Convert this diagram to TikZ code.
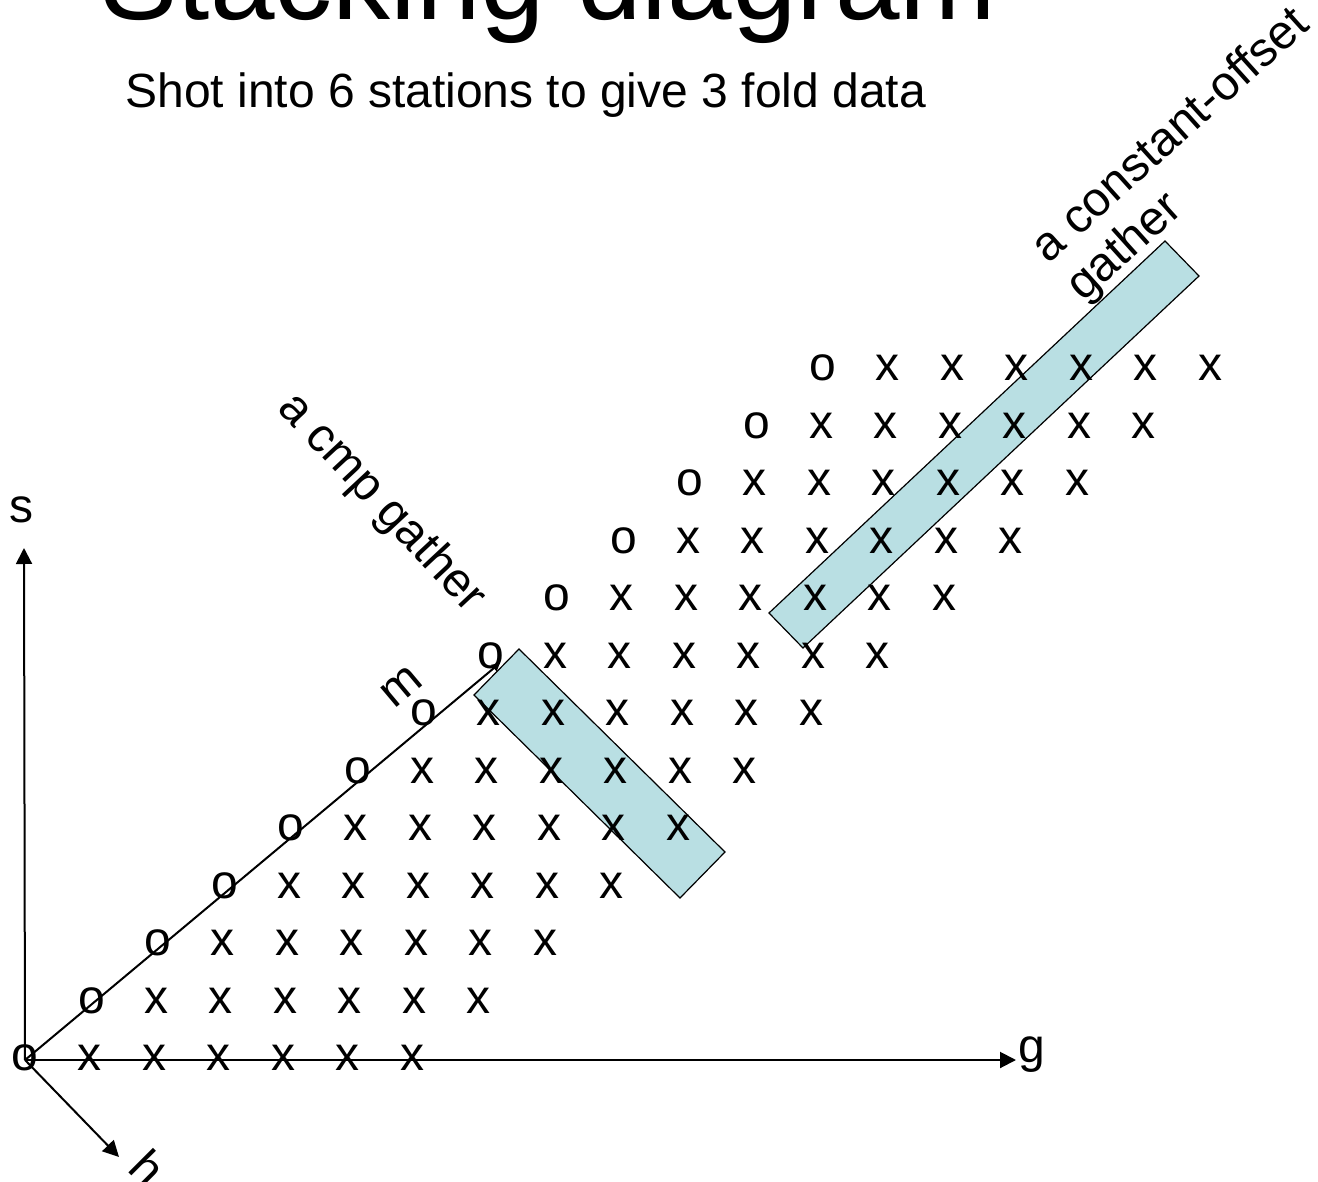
\documentclass[tikz,border=0pt]{standalone}
\usepackage{fontspec}
\setmainfont{Liberation Sans}
\usetikzlibrary{arrows.meta}
\definecolor{gatherblue}{RGB}{185,223,227}

\begin{document}
\begin{tikzpicture}[x=0.5pt, y=-0.5pt,
  bigtxt/.style={font=\fontsize{24}{26}\selectfont, inner sep=0pt},
  axis/.style={line width=1pt, -{Triangle[length=8pt, width=8pt]}},
  gatherbox/.style={fill=gatherblue, draw=black, line width=0.6pt}]

  \useasboundingbox (0,0) rectangle (1318,1182);

  % Title and subtitle
  \node[anchor=base west, font=\fontsize{58}{64}\selectfont, inner sep=0pt] (title) at (100,20) {Stacking diagram};
  \node[anchor=base west, bigtxt] (subtitle) at (125,108) {Shot into 6 stations to give 3 fold data};

  % Gather boxes (behind the stations)
  \filldraw[gatherbox] (474,695) -- (519,649) -- (725,852) -- (680,898) -- cycle;
  \filldraw[gatherbox] (769,613) -- (1165,241) -- (1199,276) -- (803,648) -- cycle;

  % Axes
  \coordinate (origin) at (25,1060);
  \coordinate (stip) at (24,548);
  \coordinate (gtip) at (1016,1060);
  \coordinate (htip) at (119,1157);
  \coordinate (mtip) at (500,663);
  \draw[axis] (origin) -- (stip);
  \draw[axis] (origin) -- (gtip);
  \draw[axis] (origin) -- (htip);
  \draw[line width=1pt, -{Triangle[length=4pt, width=4pt]}] (origin) -- (mtip);

  \node[bigtxt] (slabel) at (22,510) {s};
  \node[bigtxt] (glabel) at (1032,1055) {g};
  \node[bigtxt, rotate=-45] (hlabel) at (148,1168) {h};
  \node[bigtxt, rotate=40] (mlabel) at (402,687) {m};

  % Shots (o) and receivers (x)
  \foreach \k in {0,...,12} {
    \node[bigtxt] (o\k) at (25+66.5*\k, 1058-57.5*\k) {o};
    \foreach \j in {1,...,6}
      \node[bigtxt] (x\k-\j) at (25+66.5*\k+64.5*\j, 1058-57.5*\k) {x};
  }

  % Gather labels
  \node[bigtxt, rotate=-47] (cmplabel) at (381,503) {a cmp gather};
  \node[bigtxt, rotate=42, align=left] (offsetlabel) at (1189,156) {a constant-offset\\gather};

\end{tikzpicture}
\end{document}
